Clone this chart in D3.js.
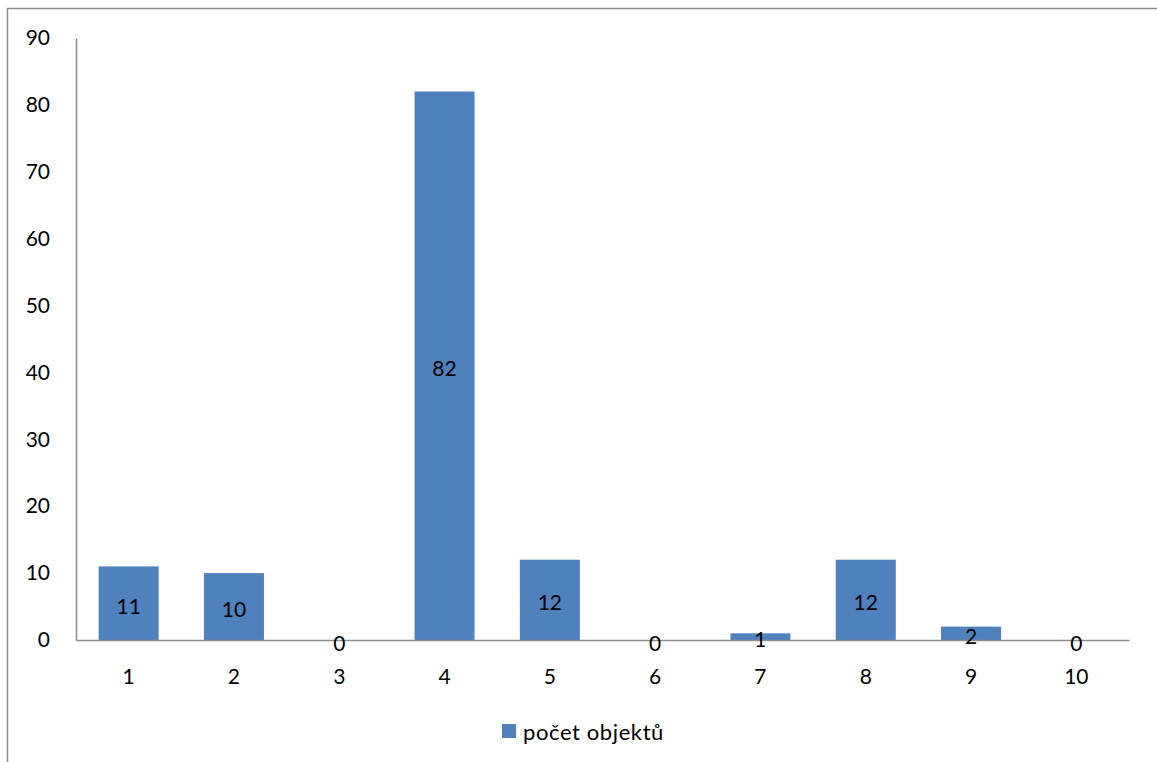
<!DOCTYPE html>
<meta charset="utf-8">
<script src="https://d3js.org/d3.v7.min.js"></script>
<style>
  body { margin: 0; background: #fff; }
  text { font-family: Lato, "Open Sans", sans-serif; fill: #000; }
</style>
<div id="chart"></div>
<script>

    // data
    var categories = ["1", "2", "3", "4", "5", "6", "7", "8", "9", "10"];
    var values = [11, 10, 0, 82, 12, 0, 1, 12, 2, 0];
    var yTicks = [0, 10, 20, 30, 40, 50, 60, 70, 80, 90];
    var seriesName = "počet objektů";

    var width = 1157, height = 762;
    var margin = {top: 38, right: 28, bottom: 122, left: 76};
    var fontSize = "21px";

    var svg = d3.select("#chart")
        .append("svg")
            .attr("width", width)
            .attr("height", height);

    // outer chart frame
    svg.append("rect")
        .attr("x", 7.5)
        .attr("y", 8.5)
        .attr("width", width + 20)
        .attr("height", height + 20)
        .attr("fill", "none")
        .attr("stroke", "#8c8c8c")
        .attr("stroke-width", 1.5);

    var x = d3.scaleBand()
        .domain(categories)
        .range([margin.left, width - margin.right])
        .paddingInner(0.43)
        .paddingOuter(0.215);

    var y = d3.scaleLinear()
        .domain([0, 90])
        .range([height - margin.bottom, margin.top]);

    // bars
    svg.selectAll("rect.bar")
        .data(values)
        .enter()
        .append("rect")
            .attr("class", "bar")
            .attr("x", function (d, i) { return x(categories[i]); })
            .attr("y", function (d) { return y(d); })
            .attr("width", x.bandwidth())
            .attr("height", function (d) { return y(0) - y(d); })
            .attr("fill", "#4F81BD");

    // y axis
    var yAxis = svg.append("g")
        .attr("transform", "translate(" + margin.left + ",0)")
        .call(d3.axisLeft(y).tickValues(yTicks).tickSize(0).tickPadding(26));
    yAxis.select(".domain").attr("stroke", "#8c8c8c").attr("stroke-width", 1.5);
    yAxis.selectAll("text").style("font-size", fontSize);

    // x axis
    var xAxis = svg.append("g")
        .attr("transform", "translate(0," + y(0) + ")")
        .call(d3.axisBottom(x).tickSize(0).tickPadding(29));
    xAxis.select(".domain").attr("stroke", "#8c8c8c").attr("stroke-width", 1.5);
    xAxis.selectAll("text").style("font-size", fontSize);

    // data labels, centered in the bar
    svg.selectAll("text.label")
        .data(values)
        .enter()
        .append("text")
            .attr("class", "label")
            .attr("x", function (d, i) { return x(categories[i]) + x.bandwidth() / 2; })
            .attr("y", function (d) { return (y(d) + y(0)) / 2 + 2; })
            .attr("text-anchor", "middle")
            .attr("dominant-baseline", "central")
            .style("font-size", fontSize)
            .text(function (d) { return d; });

    // legend
    var legend = svg.append("g").attr("transform", "translate(502,724)");
    legend.append("rect")
        .attr("width", 14)
        .attr("height", 14)
        .attr("fill", "#4F81BD");
    legend.append("text")
        .attr("x", 21)
        .attr("y", 7)
        .attr("dominant-baseline", "central")
        .style("font-size", "22px")
        .style("letter-spacing", "0.6px")
        .text(seriesName);

</script>
